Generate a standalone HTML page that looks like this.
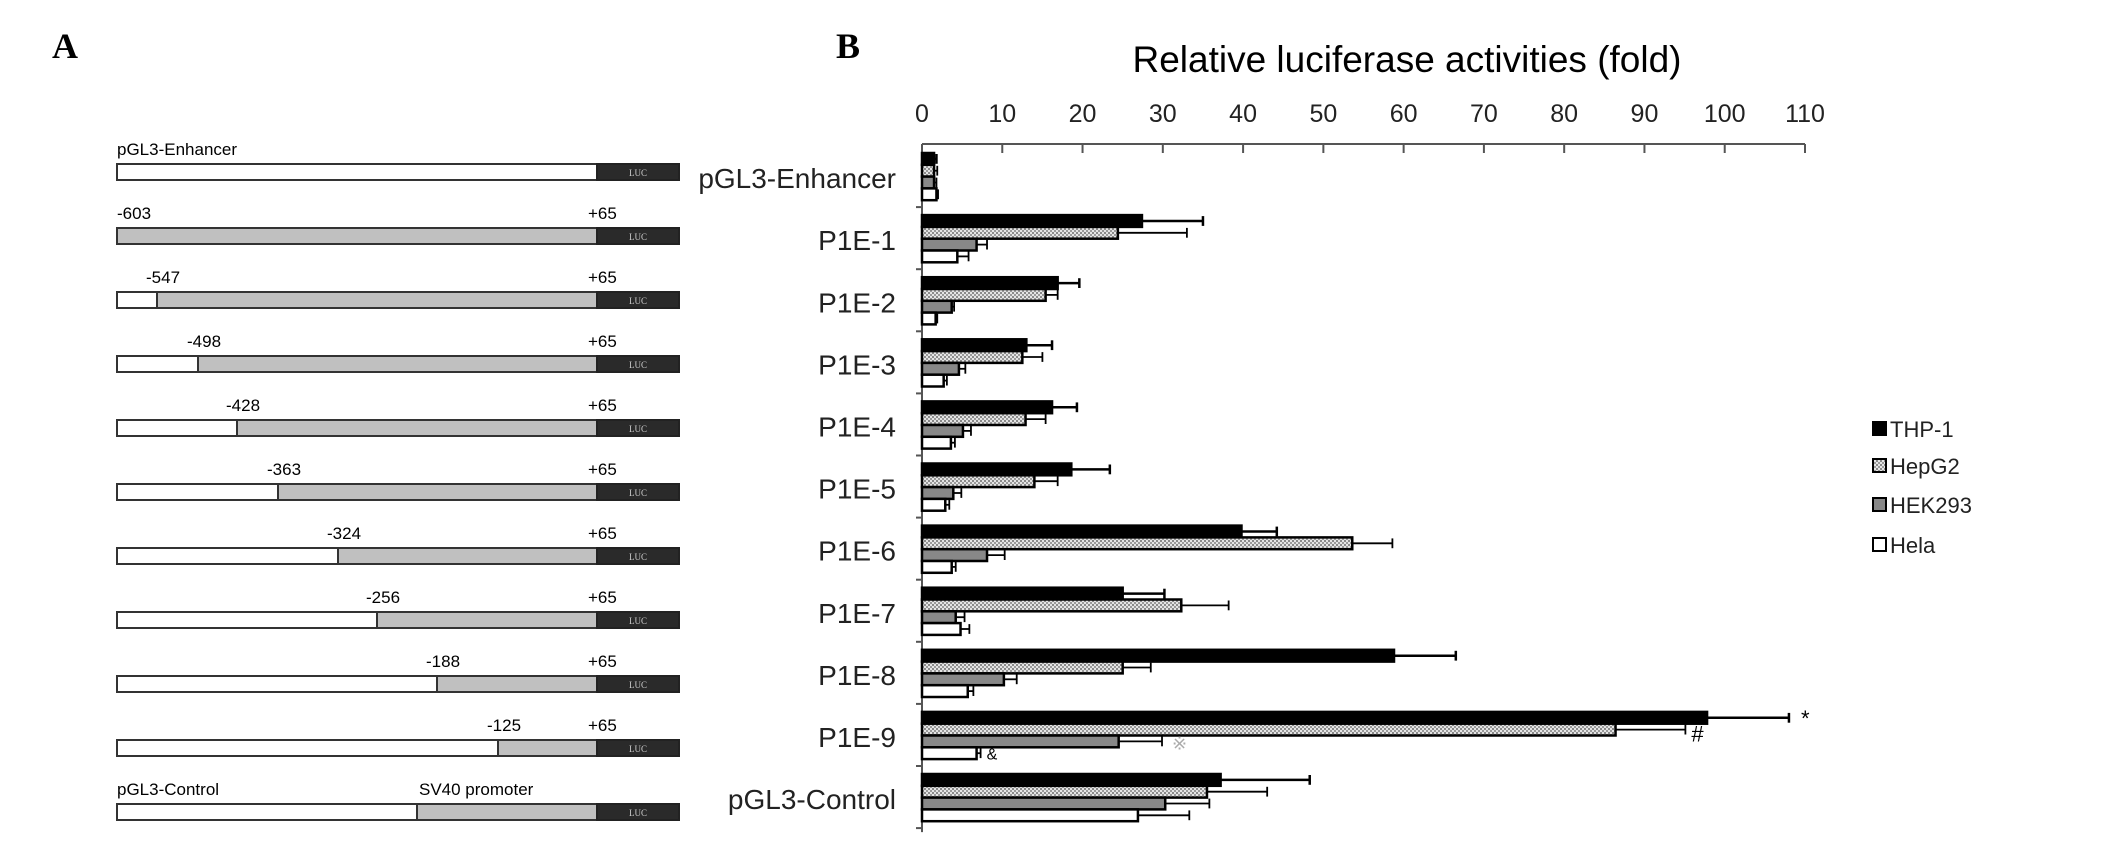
<!DOCTYPE html>
<html><head><meta charset="utf-8"><style>
html,body{margin:0;padding:0;background:#fff}
svg{display:block;font-family:"Liberation Sans",sans-serif}
</style></head><body>
<svg id="fig" width="2126" height="862" viewBox="0 0 2126 862" xmlns="http://www.w3.org/2000/svg">
<defs>
<pattern id="dots" width="4" height="4" patternUnits="userSpaceOnUse">
<rect width="4" height="4" fill="#e4e4e4"/><rect width="2" height="2" fill="#8a8a8a"/><rect x="2" y="2" width="2" height="2" fill="#9a9a9a"/>
</pattern>
</defs>
<text x="52" y="58" font-family="Liberation Serif,serif" font-weight="bold" font-size="36">A</text>
<text x="836" y="58" font-family="Liberation Serif,serif" font-weight="bold" font-size="36">B</text>
<g id="constructs"></g>
<g id="chart"></g>
</svg>
<script>
const NS="http://www.w3.org/2000/svg";
function mk(tag,attrs,parent,txt){const e=document.createElementNS(NS,tag);for(const k in attrs)e.setAttribute(k,attrs[k]);if(txt!==undefined)e.textContent=txt;parent.appendChild(e);return e;}

// Panel A
const constructNames=["pGL3-Enhancer","-603","-547","-498","-428","-363","-324","-256","-188","-125","pGL3-Control"];
const constructCut=[null,117,157,198,237,278,338,377,437,498,417];
const A=document.getElementById('constructs');
constructNames.forEach((n,i)=>{
  const top=164+64*i;
  const g=mk('g',{},A);
  
  
  let cut=constructCut[i];
  let cx = cut===null?597:cut;
  if(i===1) mk('rect',{x:117,y:top,width:480,height:16,fill:'#c0c0c0',stroke:'#333','stroke-width':2},g);
  else {
    mk('rect',{x:117,y:top,width:cx-117,height:16,fill:'#fff',stroke:'#333','stroke-width':2},g);
    if(cut!==null) mk('rect',{x:cx,y:top,width:597-cx,height:16,fill:'#c0c0c0',stroke:'#333','stroke-width':2},g);
  }
  mk('rect',{x:597,y:top,width:82,height:16,fill:'#2a2a2a',stroke:'#222','stroke-width':2},g);
  mk('text',{x:638,y:top+12,'font-size':9,fill:'#ccc','text-anchor':'middle','font-family':'Liberation Serif,serif'},g,'LUC');
  if(i===0) mk('text',{x:117,y:top-9,'font-size':17},g,'pGL3-Enhancer');
  else if(i===10){mk('text',{x:117,y:top-9,'font-size':17},g,'pGL3-Control');mk('text',{x:419,y:top-9,'font-size':17},g,'SV40 promoter');}
  else {mk('text',{x:cut-(i===1?0:11),y:top-9,'font-size':17},g,n);mk('text',{x:588,y:top-9,'font-size':17},g,'+65');}
});

// Panel B data
const categories=["pGL3-Enhancer","P1E-1","P1E-2","P1E-3","P1E-4","P1E-5","P1E-6","P1E-7","P1E-8","P1E-9","pGL3-Control"];
const seriesNames=["THP-1","HepG2","HEK293","Hela"];
const thp1=[1.5,27.4,16.9,13.0,16.2,18.6,39.8,25.0,58.8,97.8,37.2];
const thp1Err=[0.3,7.6,2.7,3.2,3.1,4.8,4.4,5.2,7.7,10.2,11.1];
const hepg2=[1.5,24.4,15.4,12.5,12.9,14.0,53.6,32.3,25.0,86.4,35.5];
const hepg2Err=[0.4,8.6,1.5,2.5,2.5,2.9,5.0,5.9,3.5,8.7,7.5];
const hek293=[1.5,6.8,3.7,4.6,5.1,3.9,8.1,4.2,10.2,24.5,30.3];
const hek293Err=[0.3,1.3,0.3,0.8,1.0,1.0,2.2,1.1,1.6,5.4,5.5];
const hela=[1.8,4.4,1.7,2.7,3.6,2.9,3.7,4.8,5.7,6.8,26.9];
const helaErr=[0.2,1.4,0.2,0.4,0.5,0.5,0.5,1.1,0.7,0.5,6.4];
const xTicks=[0,10,20,30,40,50,60,70,80,90,100,110];

const X0=922,X1=1805,XMAX=110,AXY=144,GTOP=153,GP=62.1,BH=11.8;
const xs=v=>X0+(X1-X0)*v/XMAX;
const C=document.getElementById('chart');
const title=mk('text',{x:1407,y:72,'font-size':37,'text-anchor':'middle'},C,'Relative luciferase activities (fold)');


const ax=mk('line',{x1:X0,y1:AXY,x2:X1,y2:AXY,stroke:'#555','stroke-width':2},C);


xTicks.forEach(t=>{
  mk('line',{x1:xs(t),y1:AXY,x2:xs(t),y2:AXY+9,stroke:'#555','stroke-width':2},C);
  const tl=mk('text',{x:xs(t),y:122,'font-size':25,'text-anchor':'middle',fill:'#222'},C,String(t));
  
  
});
const yax=mk('line',{x1:X0,y1:AXY,x2:X0,y2:GTOP+GP*11-4,stroke:'#555','stroke-width':2},C);


const vals=[thp1,hepg2,hek293,hela],errs=[thp1Err,hepg2Err,hek293Err,helaErr];
const fills=['#000','url(#dots)','#888','#fff'];
categories.forEach((c,i)=>{
  const gt=GTOP+GP*i;
  mk('line',{x1:X0-6,y1:gt+GP-8,x2:X0,y2:gt+GP-8,stroke:'#555','stroke-width':2},C);
  const cl=mk('text',{x:896,y:gt+GP/2+4,'font-size':28,'text-anchor':'end',fill:'#222'},C,c);
  
  
  for(let s=0;s<4;s++){
    const y=gt+s*BH, v=vals[s][i], e=errs[s][i];
    const b=mk('rect',{x:X0,y:y,width:xs(v)-X0,height:BH,fill:fills[s],stroke:'#000','stroke-width':2.5},C);
    
    
    const ex=xs(v+e), sw=s===0?2.5:1.8;
    mk('line',{x1:xs(v),y1:y+BH/2,x2:ex,y2:y+BH/2,stroke:'#000','stroke-width':sw},C);
    mk('line',{x1:ex,y1:y+1,x2:ex,y2:y+BH-1,stroke:'#000','stroke-width':sw},C);
  }
});
// significance markers (P1E-9)
const gt9=GTOP+GP*9;
mk('text',{x:xs(thp1[9]+thp1Err[9])+12,y:gt9+14,'font-size':22},C,'*');
mk('text',{x:xs(hepg2[9]+hepg2Err[9])+6,y:gt9+BH+18,'font-size':22},C,'#');
mk('text',{x:xs(hek293[9]+hek293Err[9])+10,y:gt9+2*BH+14,'font-size':18,fill:'#aaa'},C,'※');
mk('text',{x:xs(hela[9]+helaErr[9])+6,y:gt9+3*BH+12,'font-size':16},C,'&');
// legend
const L=mk('g',{},C);


const legY=[429,466,505,545];
seriesNames.forEach((n,s)=>{
  const r=mk('rect',{x:1873,y:legY[s]-7,width:13,height:13,fill:fills[s],stroke:'#000','stroke-width':2},L);
  
  
  const t=mk('text',{x:1890,y:legY[s]+8,'font-size':22,fill:'#222'},L,n);
  
  
});
</script>
</body></html>
